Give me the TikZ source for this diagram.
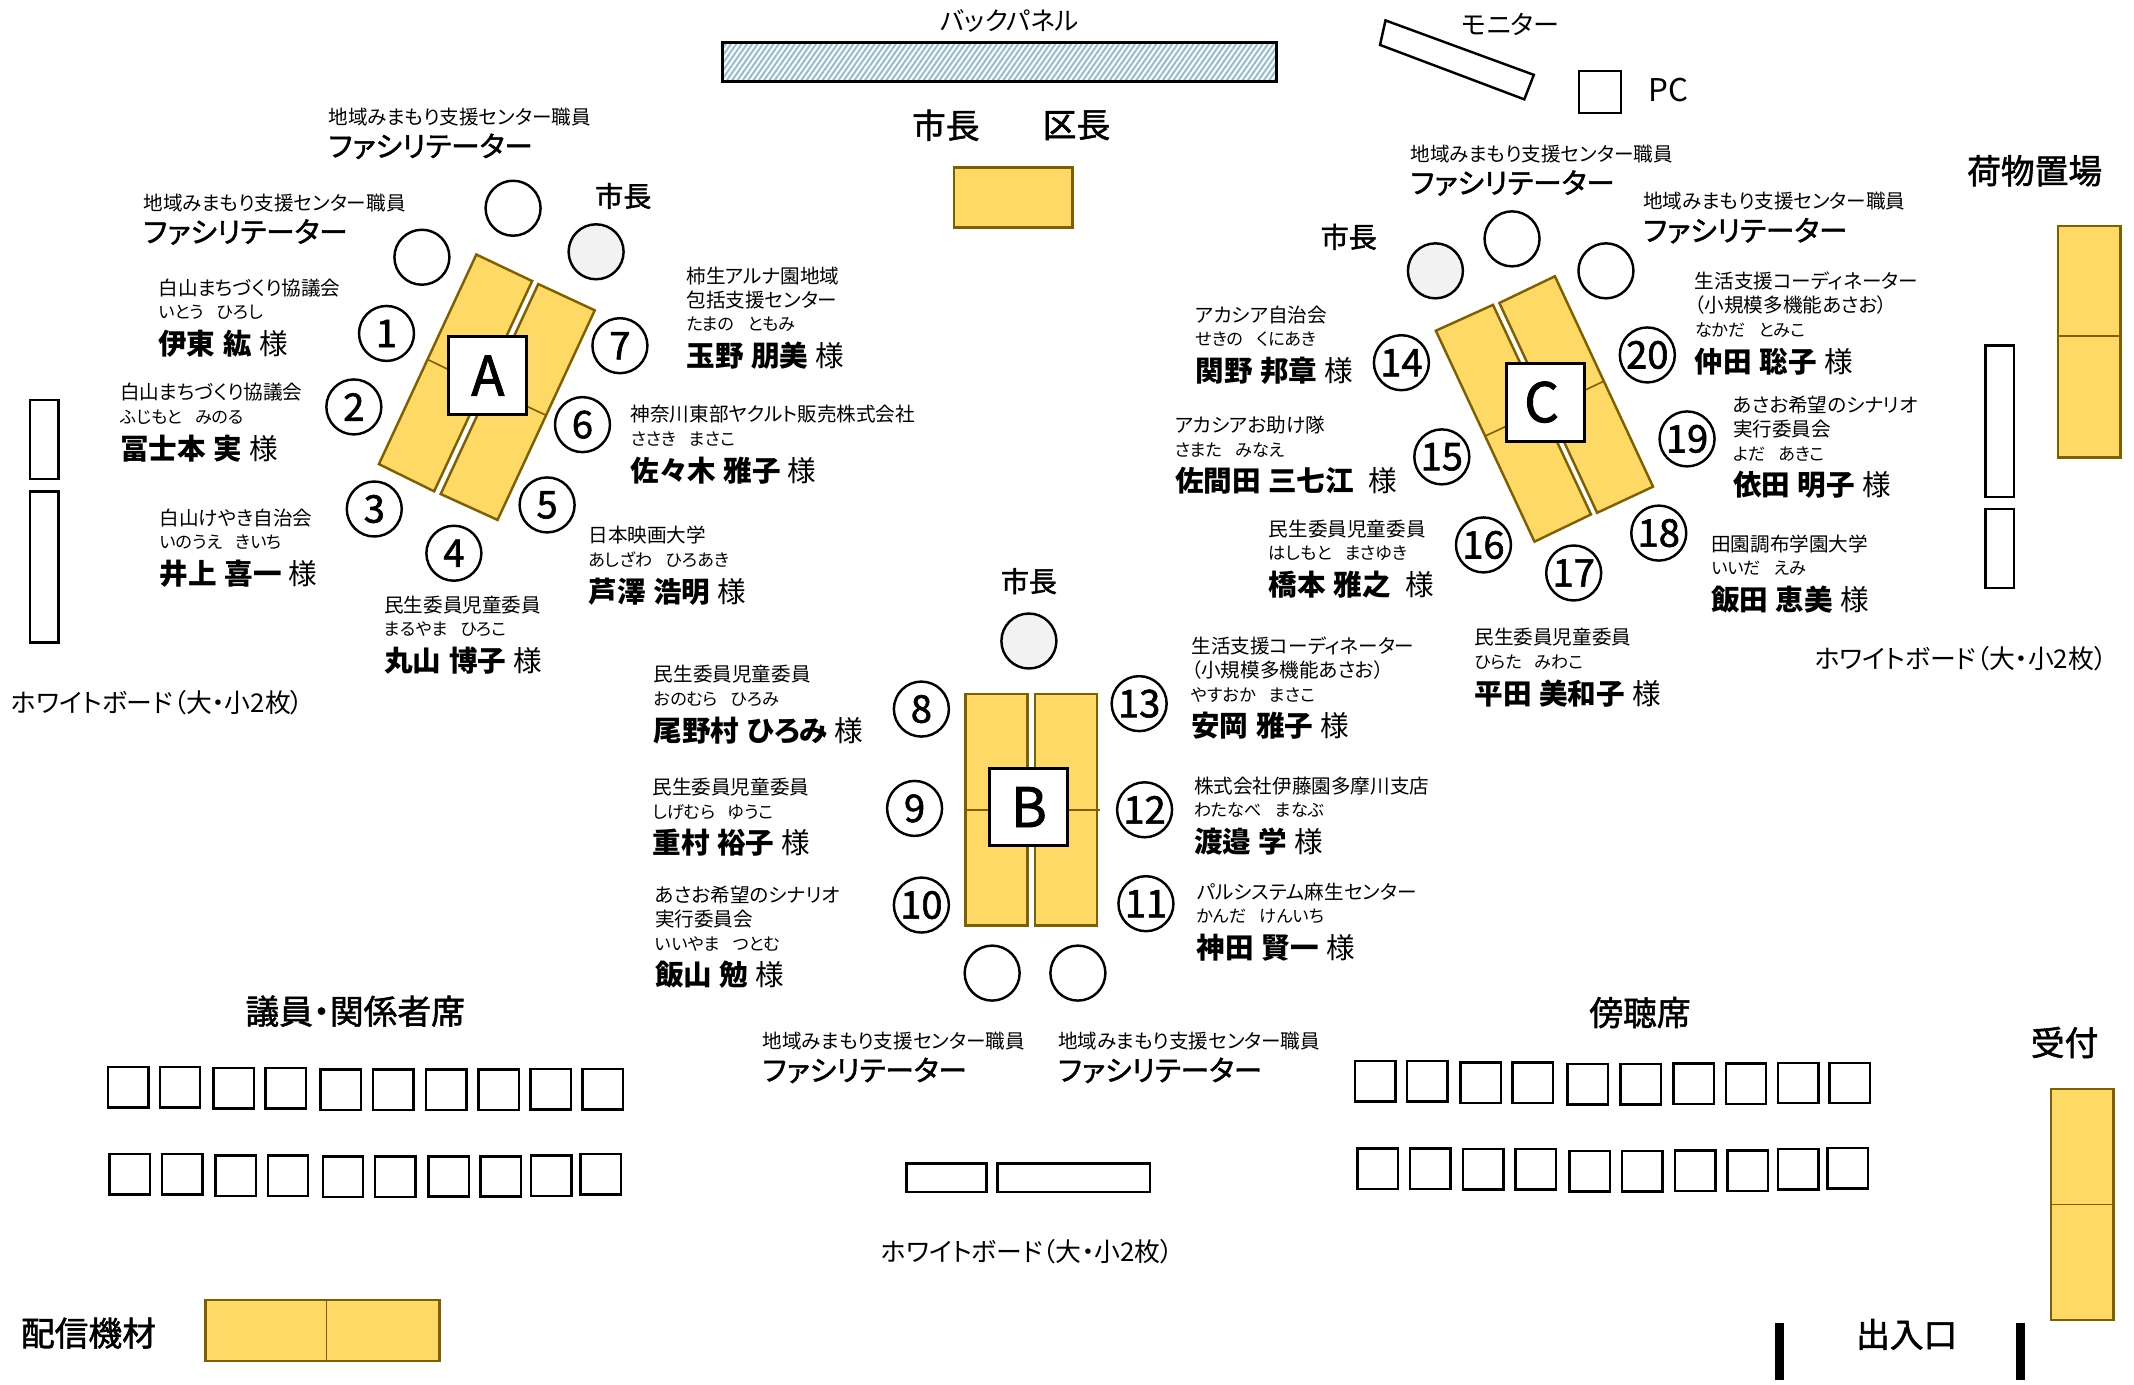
\documentclass[tikz,border=0pt]{standalone}
\usepackage{fontspec}
\setmainfont[RawFeature=+palt,WordSpace=1.15]{Noto Sans CJK JP}
\newfontfamily\kanafont[RawFeature=+palt,WordSpace=3.4]{Noto Sans CJK JP}
\newfontfamily\heavyfont[RawFeature=+palt,FakeBold=1.6]{Noto Sans CJK JP}
\usetikzlibrary{patterns.meta}

\definecolor{deskfill}{HTML}{FFD966}
\definecolor{deskline}{HTML}{7F6000}
\definecolor{mayorfill}{HTML}{F2F2F2}
\definecolor{panelblue}{HTML}{94BCD2}

\tikzset{
  desk/.style={draw=deskline,fill=deskfill,line width=.9pt},
  board/.style={draw,fill=white,line width=.9pt},
  chair/.style={draw,fill=white,line width=.9pt,anchor=north west,minimum size=14.85pt,inner sep=0pt,outer sep=.45pt},
  seat/.style={circle,draw,fill=white,line width=.9pt,minimum size=20.2pt,inner sep=0pt,font=\heavyfont\fontsize{14}{16}\selectfont},
  mayorseat/.style={seat,fill=mayorfill},
  tablemark/.style={draw,fill=white,line width=1.1pt,minimum size=28.6pt,inner sep=0pt,font=\heavyfont\fontsize{20}{22}\selectfont},
  orgtext/.style={inner sep=0pt,align=left,font=\fontsize{7.2}{8.8}\selectfont},
  kanatext/.style={inner sep=0pt,anchor=west,font=\kanafont\fontsize{6.3}{7}\selectfont},
  nametext/.style={inner sep=0pt,anchor=west,font=\fontsize{10.5}{12}\selectfont},
  factext/.style={inner sep=0pt,anchor=west,font=\heavyfont\fontsize{10.5}{12}\selectfont},
  smalltitle/.style={inner sep=0pt,font=\heavyfont\fontsize{10.3}{12}\selectfont},
  areatitle/.style={inner sep=0pt,font=\heavyfont\fontsize{12.4}{14}\selectfont},
  boardtext/.style={inner sep=0pt,anchor=west,font=\fontsize{9.5}{11}\selectfont}
}

\newcommand{\guest}[6]{%
  \node[orgtext,anchor=south west] (org#1) at (#2,#3+7.5) {#4};
  \node[kanatext] (kana#1) at (#2,#3+18.5) {#5};
  \node[nametext] (name#1) at (#2,#3+41.5) {\textbf{#6} 様};
}
\newcommand{\facilitator}[3]{%
  \node[orgtext,anchor=west] (faco#1) at (#2,#3) {地域みまもり支援センター職員};
  \node[factext] (facn#1) at (#2,#3+21.5) {ファシリテーター};
}

\begin{document}
\begin{tikzpicture}[x=.5pt,y=-.5pt]
  \useasboundingbox (0,0) rectangle (1568,1017);

  % front of the room
  \node[inner sep=0pt,font=\fontsize{9.4}{11}\selectfont] (paneltext) at (742,15.5) {バックパネル};
  \draw[line width=1pt,preaction={fill=white},pattern={Lines[angle=55,distance=1.6pt,line width=.75pt]},pattern color=panelblue] (531,31) rectangle (938,60);
  \node[areatitle] (mayortop) at (695,92) {市長};
  \node[areatitle] (wardtop) at (791,92) {区長};
  \draw[desk] (701,123) rectangle (788,167);
  \draw[board] (1018,15) -- (1127,55) -- (1120,73) -- (1014,33) -- cycle;
  \node[inner sep=0pt,font=\fontsize{9.6}{11}\selectfont] (monitortext) at (1110,18) {モニター};
  \draw[board] (1160,52) rectangle (1191,83);
  \node[inner sep=0pt,font=\fontsize{11.5}{13}\selectfont] (pctext) at (1226,66) {PC};

  % table A
  \draw[desk] (350,187) -- (391,206.5) -- (319,361) -- (278.4,341) -- cycle;
  \draw[desk] (395.5,208.7) -- (437,228) -- (365.6,382) -- (323.8,363) -- cycle;
  \draw[deskline,line width=.6pt] (314,264) -- (355,284) (360,286) -- (401,305);
  \node[tablemark] (tableA) at (358.5,276) {A};
  \node[seat] (fa1) at (377,153) {};
  \node[seat] (fa2) at (310,189) {};
  \node[mayorseat] (ma) at (438,185) {};
  \node[smalltitle] (mayora) at (458,144) {市長};
  \foreach \xpos/\ypos [count=\i] in {284/245,260/299,275/374,333.5/406.5,402/371,428/312,455.5/254}
    \node[seat] (s\i) at (\xpos,\ypos) {\i};
  \facilitator{a1}{241}{86}
  \facilitator{a2}{105}{149}
  \guest{1}{116}{211}{白山まちづくり協議会}{いとう ひろし}{伊東 紘}
  \guest{2}{88}{288}{白山まちづくり協議会}{ふじもと みのる}{冨士本 実}
  \guest{3}{117}{380}{白山けやき自治会}{いのうえ きいち}{井上 喜一}
  \guest{4}{282}{444}{民生委員児童委員}{まるやま ひろこ}{丸山 博子}
  \guest{5}{432}{393}{日本映画大学}{あしざわ ひろあき}{芦澤 浩明}
  \guest{6}{463}{304}{神奈川東部ヤクルト販売株式会社}{ささき まさこ}{佐々木 雅子}
  \guest{7}{504}{220}{柿生アルナ園地域\\包括支援センター}{たまの ともみ}{玉野 朋美}

  % table B
  \draw[desk] (709.4,510) rectangle (755,680);
  \draw[desk] (760.5,510) rectangle (806,680);
  \draw[deskline,line width=.9pt] (709.4,595) -- (755,595) (760.5,595) -- (808,595);
  \node[tablemark] (tableB) at (756,593) {B};
  \node[mayorseat] (mb) at (756,471) {};
  \node[smalltitle] (mayorb) at (756,427) {市長};
  \node[seat] (fb1) at (729,715) {};
  \node[seat] (fb2) at (792,715) {};
  \foreach \xpos/\ypos [count=\i from 8] in {677/521,672/594,677/665,842/664,841/595,837/517}
    \node[seat] (s\i) at (\xpos,\ypos) {\i};
  \facilitator{b1}{560}{765}
  \facilitator{b2}{777}{765}
  \guest{8}{480}{495}{民生委員児童委員}{おのむら ひろみ}{尾野村 ひろみ}
  \guest{9}{479}{578}{民生委員児童委員}{しげむら ゆうこ}{重村 裕子}
  \guest{10}{481}{675}{あさお希望のシナリオ\\実行委員会}{いいやま つとむ}{飯山 勉}
  \guest{11}{879}{655}{パルシステム麻生センター}{かんだ けんいち}{神田 賢一}
  \guest{12}{877}{577}{株式会社伊藤園多摩川支店}{わたなべ まなぶ}{渡邉 学}
  \guest{13}{875}{492}{生活支援コーディネーター\\（小規模多機能あさお）}{やすおか まさこ}{安岡 雅子}

  % table C
  \draw[desk] (1055,243) -- (1097,224) -- (1169,378) -- (1127.5,398) -- cycle;
  \draw[desk] (1101.7,222.6) -- (1142.5,203) -- (1214.6,357.6) -- (1173.5,376.8) -- cycle;
  \draw[deskline,line width=.6pt] (1091,320.5) -- (1133,301) (1137.6,299.7) -- (1178.5,280);
  \node[tablemark] (tableC) at (1135.7,295.5) {C\kern3pt};
  \node[seat] (fc1) at (1111,175.5) {};
  \node[seat] (fc2) at (1180,199) {};
  \node[mayorseat] (mc) at (1054.7,199) {};
  \node[smalltitle] (mayorc) at (991,174) {市長};
  \foreach \xpos/\ypos [count=\i from 14] in {1029.7/266.5,1059.4/335.7,1090/400.4,1156.3/421,1218.8/391.7,1239.6/322.5,1210.4/260.8}
    \node[seat] (s\i) at (\xpos,\ypos) {\i};
  \facilitator{c1}{1036}{113}
  \facilitator{c2}{1207}{148}
  \guest{14}{878}{231}{アカシア自治会}{せきの くにあき}{関野 邦章}
  \guest{15}{863}{312}{アカシアお助け隊}{さまた みなえ}{佐間田 三七江\ }
  \guest{16}{932}{388}{民生委員児童委員}{はしもと まさゆき}{橋本 雅之\ }
  \guest{17}{1083}{468}{民生委員児童委員}{ひらた みわこ}{平田 美和子}
  \guest{18}{1257}{399}{田園調布学園大学}{いいだ えみ}{飯田 恵美}
  \guest{19}{1273}{315}{あさお希望のシナリオ\\実行委員会}{よだ あきこ}{依田 明子}
  \guest{20}{1245}{224}{生活支援コーディネーター\\（小規模多機能あさお）}{なかだ とみこ}{仲田 聡子}

  % whiteboards
  \draw[board] (22,294) rectangle (43,352);
  \draw[board] (22,361) rectangle (43,472);
  \node[boardtext] (boardl) at (8,516.5) {ホワイトボード（大・小2枚）};
  \draw[board] (1459,254) rectangle (1480,365);
  \draw[board] (1459,374) rectangle (1480,432);
  \node[boardtext] (boardr) at (1333,484) {ホワイトボード（大・小2枚）};
  \draw[board] (666,855) rectangle (725,876);
  \draw[board] (733,855) rectangle (845,876);
  \node[boardtext] (boardb) at (647,919.5) {ホワイトボード（大・小2枚）};

  % side tables
  \node[areatitle] (luggage) at (1495,125.5) {荷物置場};
  \draw[desk] (1512,166) rectangle (1558,336);
  \draw[deskline,line width=.6pt] (1512,247) -- (1558,247);
  \node[areatitle] (reception) at (1517,766) {受付};
  \draw[desk] (1507,800) rectangle (1553,970);
  \draw[deskline,line width=.6pt] (1507,885) -- (1553,885);
  \node[areatitle] (stream) at (65,979.5) {配信機材};
  \draw[desk] (151,955) rectangle (323,1000);
  \draw[deskline,line width=.6pt] (240,955) -- (240,1000);
  \node[areatitle] (door) at (1401,980.5) {出入口};
  \fill (1304,972) rectangle (1311,1014);
  \fill (1481,972) rectangle (1488,1014);

  % audience rows
  \node[areatitle] (members) at (261,743) {議員・関係者席};
  \foreach \xpos/\ypos [count=\i] in {78.5/783,116.5/783,155.9/784,194.2/784,234.6/785,273.2/785,312.2/785,350.8/785,388.9/784.5,427/784.5}
    \node[chair] (ma\i) at (\xpos,\ypos) {};
  \foreach \xpos/\ypos [count=\i] in {79.7/847,118.2/847,157.3/848,195.9/848,236.3/849,274.6/849,313.9/848.7,352.2/848.7,389.2/848,425.6/847}
    \node[chair] (mb\i) at (\xpos,\ypos) {};
  \node[areatitle] (public) at (1205,744) {傍聴席};
  \foreach \xpos/\ypos [count=\i] in {994.8/778.8,1033/778.8,1072.1/779.8,1110.5/779.8,1150.9/780.8,1189.7/780.8,1228.8/780.6,1267.1/780.6,1305.4/780,1343.4/780}
    \node[chair] (pa\i) at (\xpos,\ypos) {};
  \foreach \xpos/\ypos [count=\i] in {996.4/843,1035.1/843,1074.2/843.5,1112.5/843.5,1152.2/844.8,1190.9/844.8,1230/844.5,1268.5/844.5,1305.5/843.5,1342/842.5}
    \node[chair] (pb\i) at (\xpos,\ypos) {};
\end{tikzpicture}
\end{document}
